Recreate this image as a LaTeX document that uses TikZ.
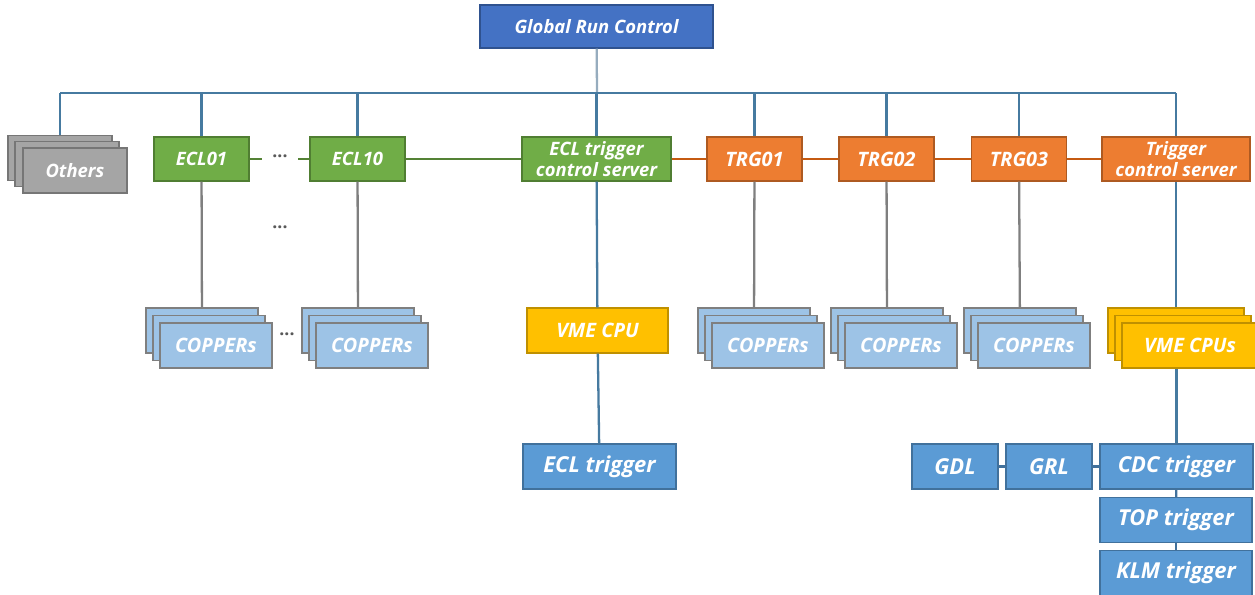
\documentclass[tikz,border=0pt]{standalone}
\usepackage{fontspec}
\setmainfont{Open Sans}
\usepackage{xcolor}
\usepackage{tikz}
\usetikzlibrary{positioning, calc}

\definecolor{grcfill}{RGB}{68,114,196}
\definecolor{grcdraw}{RGB}{47,82,143}
\definecolor{eclfill}{RGB}{112,173,71}
\definecolor{ecldraw}{RGB}{80,126,50}
\definecolor{trgfill}{RGB}{237,125,49}
\definecolor{trgdraw}{RGB}{174,90,33}
\definecolor{othfill}{RGB}{165,165,165}
\definecolor{othdraw}{RGB}{118,118,118}
\definecolor{cpfill}{RGB}{157,195,230}
\definecolor{cpdraw}{RGB}{127,127,127}
\definecolor{vmefill}{RGB}{255,192,0}
\definecolor{vmedraw}{RGB}{191,144,0}
\definecolor{hwfill}{RGB}{91,155,213}
\definecolor{hwdraw}{RGB}{65,113,156}
\definecolor{buscol}{RGB}{70,122,160}
\definecolor{grccol}{RGB}{150,172,190}
\definecolor{greenlink}{RGB}{84,130,53}
\definecolor{orangelink}{RGB}{197,90,17}

\begin{document}
\begin{tikzpicture}[x=0.02cm, y=-0.02cm, line width=1.3pt]
				\tikzset{box/.style={draw, line width=0.8pt, text=white, font=\fontsize{10.5}{11.5}\selectfont\bfseries\itshape, align=center, inner sep=0pt, minimum height=0.9cm}}
				\tikzset{grc/.style={box, fill=grcfill, draw=grcdraw, minimum width=4.66cm, minimum height=0.86cm}}
				\tikzset{ecl/.style={box, fill=eclfill, draw=ecldraw, minimum height=0.88cm}}
				\tikzset{trg/.style={box, fill=trgfill, draw=trgdraw, minimum height=0.88cm}}
				\tikzset{big/.style={font=\fontsize{11.3}{12}\selectfont\bfseries\itshape}}
				\tikzset{oth/.style={box, fill=othfill, draw=othdraw, minimum width=2.08cm}}
				\tikzset{copper/.style={box, big, fill=cpfill, draw=cpdraw, minimum width=2.24cm}}
				\tikzset{vme/.style={box, big, fill=vmefill, draw=vmedraw}}
				\tikzset{hw/.style={box, fill=hwfill, draw=hwdraw, font=\fontsize{12.5}{13}\selectfont\bfseries\itshape}}
				\tikzset{busline/.style={draw=buscol}}
				\tikzset{grayline/.style={draw=cpdraw}}
				\tikzset{dots/.style={text=gray!70!black, font=\fontsize{10}{11.5}\selectfont\bfseries, inner sep=0pt, minimum width=0.68cm}}
				\useasboundingbox (0,0) rectangle (1255,595);

				\node (grc) [grc] at (596.5,26.5) {Global Run Control};
				\coordinate (busL) at (60,93);
				\coordinate (busM) at (597,93);
				\coordinate (busR) at (1176,93);

				% Others
				\node (oth-1) [oth] at (60,158) {};
				\node (oth-2) [oth] at (67,164) {};
				\node (oth) [oth] at (75,170.5) {Others};

				\node (ecl01) [ecl, minimum width=1.9cm] at (201.5,159) {ECL01};
				\node (ecl10) [ecl, minimum width=1.9cm] at (357.5,159) {ECL10};
				\node (esrv) [ecl, minimum width=2.98cm] at (596.5,159) {ECL trigger\\control server};
				\node (trg01) [trg, big, minimum width=1.9cm] at (754.5,159) {TRG01};
				\node (trg02) [trg, big, minimum width=1.9cm] at (886.5,159) {TRG02};
				\node (trg03) [trg, big, minimum width=1.9cm] at (1019,159) {TRG03};
				\node (tsrv) [trg, minimum width=2.96cm] at (1176,159) {Trigger\\control server};

				\node (dA) [dots, anchor=base] at (280,157) {...};
				\node (dB) [dots, anchor=base] at (280,228) {...};
				\node (dC) [dots, anchor=base] at (287,335) {...};

				% COPPERs stacks
				\foreach \nm/\cx in {cA/202, cB/358, cC/754, cD/887, cE/1020} {
					\node (\nm-1) [copper] at (\cx,330.5) {};
					\node (\nm-2) [copper] at (\cx+7,338) {};
					\node (\nm) [copper] at (\cx+14,345.5) {COPPERs};
				}

				\node (vme) [vme, minimum width=2.82cm] at (597.5,330.5) {VME CPU};
				\node (vmes-1) [vme, minimum width=2.72cm] at (1176,330.5) {};
				\node (vmes-2) [vme, minimum width=2.72cm] at (1183,338) {};
				\node (vmes) [vme, minimum width=2.72cm] at (1190,345.5) {VME CPUs};

				\node (ecltrg) [hw, minimum width=3.06cm] at (599.5,466.5) {ECL trigger};
				\node (gdl) [hw, minimum width=1.72cm] at (955,466.5) {GDL};
				\node (grl) [hw, minimum width=1.72cm] at (1049,466.5) {GRL};
				\node (cdc) [hw, minimum width=3.06cm] at (1176.5,466.5) {CDC trigger};
				\node (top) [hw, minimum width=3.04cm] at (1176,520) {TOP trigger};
				\node (klm) [hw, minimum width=3.04cm] at (1176,573) {KLM trigger};

				\draw[grccol] (grc) -- (busM);
				\draw[busline] (busL) -- (busR);
				\draw[busline] (busL) -- (oth-1);
				\foreach \n in {ecl01, ecl10, esrv, trg01, trg02, trg03, tsrv}
					\draw[busline] (\n |- busM) -- (\n);

				\draw[greenlink] (ecl01.east) -- (ecl01.east -| dA.west);
				\draw[greenlink] (ecl10.west -| dA.east) -- (ecl10.west);
				\draw[greenlink] (ecl10) -- (esrv);
				\draw[orangelink] (esrv) -- (trg01);
				\draw[orangelink] (trg01) -- (trg02);
				\draw[orangelink] (trg02) -- (trg03);
				\draw[orangelink] (trg03) -- (tsrv);

				\draw[grayline] (ecl01) -- (cA-1);
				\draw[grayline] (ecl10) -- (cB-1);
				\draw[grayline] (trg01) -- (cC-1);
				\draw[grayline] (trg02) -- (cD-1);
				\draw[grayline] (trg03) -- (cE-1);

				\draw[busline] (esrv) -- (vme);
				\draw[busline] (vme) -- (ecltrg);
				\draw[busline] (tsrv) -- (vmes-1);
				\draw[busline] (cdc |- vmes.south) -- (cdc);
				\draw[hwdraw] (gdl) -- (grl);
				\draw[hwdraw] (grl) -- (cdc);
				\draw[hwdraw] (cdc) -- (top);
				\draw[hwdraw] (top) -- (klm);
			\end{tikzpicture}
\end{document}
